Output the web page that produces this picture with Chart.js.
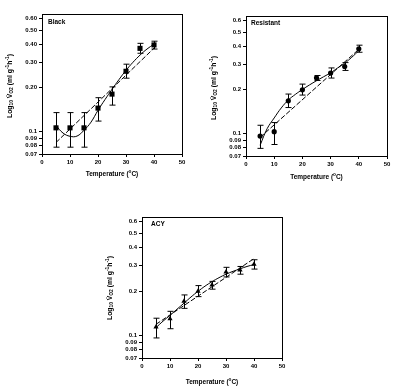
<!DOCTYPE html>
<html>
<head>
<meta charset="utf-8">
<script src="https://cdn.jsdelivr.net/npm/chart.js@4.4.0/dist/chart.umd.min.js"></script>
<style>
body { margin: 0; background: #fff; width: 397px; height: 391px; position: relative; overflow: hidden; }
.panel { position: absolute; }
</style>
</head>
<body>
<div class="panel" style="left:0px;top:0px"><canvas id="black" width="200" height="190"></canvas></div>
<div class="panel" style="left:200px;top:0px"><canvas id="resistant" width="197" height="190"></canvas></div>
<div class="panel" style="left:100px;top:200px"><canvas id="acy" width="200" height="191"></canvas></div>
<script>
// temperatures of the measured points (°C)
var temps = [5, 10, 15, 20, 25, 30, 35, 40];
// temperatures where the fitted curves were read
var fitTemps = [5, 7.5, 10, 12.5, 15, 17.5, 20, 22.5, 25, 27.5, 30, 32.5, 35, 37.5, 40];
var dashTemps = [5, 40];

// Black
var blackMean = [0.106, 0.106, 0.106, 0.145, 0.181, 0.260, 0.374, 0.395];
var blackHigh = [0.135, 0.135, 0.135, 0.171, 0.203, 0.291, 0.405, 0.419];
var blackLow  = [0.078, 0.078, 0.078, 0.118, 0.152, 0.233, 0.346, 0.370];
var blackSolid = [0.110, 0.0976, 0.0927, 0.093, 0.102, 0.116, 0.140, 0.166, 0.195, 0.228, 0.264, 0.300, 0.336, 0.370, 0.400];
var blackDashed = [0.084, 0.375];

// Resistant
var resMean = [0.096, 0.103, 0.168, 0.200, 0.242, 0.261, 0.289, 0.383];
var resHigh = [0.114, 0.119, 0.187, 0.219, 0.251, 0.283, 0.308, 0.406];
var resLow  = [0.079, 0.084, 0.151, 0.184, 0.232, 0.241, 0.272, 0.363];
var resSolid = [0.083, 0.108, 0.128, 0.150, 0.170, 0.186, 0.201, 0.216, 0.231, 0.246, 0.262, 0.283, 0.305, 0.335, 0.372];
var resDashed = [0.094, 0.380];

// ACY
var acyMean = [0.114, 0.130, 0.171, 0.200, 0.221, 0.271, 0.280, 0.307];
var acyHigh = [0.131, 0.146, 0.189, 0.219, 0.234, 0.292, 0.296, 0.329];
var acyLow  = [0.096, 0.111, 0.153, 0.184, 0.207, 0.251, 0.262, 0.284];
var acySolid = [0.113, 0.125, 0.137, 0.151, 0.166, 0.183, 0.200, 0.217, 0.233, 0.248, 0.262, 0.274, 0.285, 0.296, 0.305];
var acyDashed = [0.119, 0.335];

// tick labels
var yTicks = [0.07, 0.08, 0.09, 0.1, 0.2, 0.3, 0.4, 0.5, 0.6];
var blackTickLabels = ['0.07', '0.08', '0.09', '0.1', '0.20', '0.30', '0.40', '0.50', '0.60'];
var otherTickLabels = ['0.07', '0.08', '0.09', '0.1', '0.2', '0.3', '0.4', '0.5', '0.6'];
var xTicks = [0, 10, 20, 30, 40, 50];

// axis titles, pieces: 0 normal, 1 subscript, 2 superscript
var yTitle = [['Log', 0], ['10', 1], [' V\u0307', 0], ['O2', 1], [' (ml g', 0], ['-1', 2], ['h', 0], ['-1', 2], [')', 0]];
var xTitle = [['Temperature (', 0], ['o', 2], ['C)', 0]];

var FONT = "'Liberation Sans', Arial, sans-serif";

function pts(xs, ys) {
	return xs.map(function(x, i) { return {x: x, y: ys[i]}; });
}

function drawRich(ctx, pieces, x, y, size) {
	var total = 0;
	pieces.forEach(function(p) {
		ctx.font = 'bold ' + (p[1] ? size * 0.72 : size) + 'px ' + FONT;
		total += ctx.measureText(p[0]).width;
	});
	var cx = x - total / 2;
	ctx.textBaseline = 'middle';
	ctx.textAlign = 'left';
	pieces.forEach(function(p) {
		ctx.font = 'bold ' + (p[1] ? size * 0.72 : size) + 'px ' + FONT;
		var dy = p[1] == 1 ? size * 0.3 : (p[1] == 2 ? -size * 0.35 : 0);
		ctx.fillText(p[0], cx, y + dy);
		cx += ctx.measureText(p[0]).width;
	});
}

// error bars under the markers
var errorBars = {
	id: 'errorBars',
	beforeDatasetsDraw: function(chart) {
		var ctx = chart.ctx;
		var xs = chart.scales.x, ys = chart.scales.y;
		ctx.save();
		ctx.strokeStyle = '#000';
		ctx.lineWidth = 1;
		chart.data.datasets.forEach(function(ds) {
			if (!ds.errHigh) return;
			ds.data.forEach(function(p, i) {
				var px = Math.round(xs.getPixelForValue(p.x)) + 0.5;
				var top = ys.getPixelForValue(ds.errHigh[i]);
				var bot = ys.getPixelForValue(ds.errLow[i]);
				ctx.beginPath();
				ctx.moveTo(px, top); ctx.lineTo(px, bot);
				ctx.moveTo(px - 3, top); ctx.lineTo(px + 3, top);
				ctx.moveTo(px - 3, bot); ctx.lineTo(px + 3, bot);
				ctx.stroke();
			});
		});
		ctx.restore();
	}
};

// frame, panel name and axis titles
var decorations = {
	id: 'decorations',
	afterDraw: function(chart, args, opts) {
		var ctx = chart.ctx;
		var a = chart.chartArea;
		ctx.save();
		ctx.strokeStyle = '#000';
		ctx.lineWidth = 1;
		ctx.strokeRect(Math.round(a.left) + 0.5, Math.round(a.top) + 0.5, Math.round(a.right - a.left), Math.round(a.bottom - a.top));
		ctx.fillStyle = '#000';
		ctx.font = 'bold 6.5px ' + FONT;
		ctx.textAlign = 'left';
		ctx.textBaseline = 'middle';
		ctx.fillText(opts.name, a.left + opts.nameDx, a.top + opts.nameDy);
		drawRich(ctx, xTitle, (a.left + a.right) / 2, a.bottom + opts.xTitleDy, 6.5);
		ctx.translate(a.left - 32, opts.yTitleCy);
		ctx.rotate(-Math.PI / 2);
		drawRich(ctx, yTitle, 0, 0, 6.8);
		ctx.restore();
	}
};

function makeChart(id, c) {
	var tickFont = {family: FONT, size: 6, weight: 'bold'};
	return new Chart(document.getElementById(id).getContext('2d'), {
		type: 'scatter',
		data: {
			datasets: [{
				data: pts(temps, c.mean),
				errHigh: c.high,
				errLow: c.low,
				pointStyle: c.marker,
				pointRadius: c.radius,
				backgroundColor: '#000',
				borderColor: '#000',
				borderWidth: 0,
				showLine: false
			}, {
				data: pts(fitTemps, c.solid),
				showLine: true,
				pointRadius: 0,
				borderColor: '#000',
				borderWidth: 1,
				tension: 0.4
			}, {
				data: pts(dashTemps, c.dashed),
				showLine: true,
				pointRadius: 0,
				borderColor: '#000',
				borderWidth: 1,
				borderDash: [5, 2]
			}]
		},
		options: {
			responsive: false,
			animation: false,
			layout: {padding: {left: 0, top: c.top, right: c.right, bottom: 0}},
			scales: {
				x: {
					type: 'linear', min: 0, max: 50,
					afterBuildTicks: function(s) { s.ticks = xTicks.map(function(v) { return {value: v}; }); },
					afterFit: function(s) { s.height = c.xHeight; },
					ticks: {font: tickFont, color: '#000', padding: 2, maxRotation: 0},
					grid: {drawOnChartArea: false, tickLength: 3, color: '#000'},
					border: {color: '#000'}
				},
				y: {
					type: 'logarithmic', min: 0.07, max: 0.645,
					afterBuildTicks: function(s) { s.ticks = yTicks.map(function(v) { return {value: v}; }); },
					afterFit: function(s) { s.width = c.yWidth; },
					ticks: {
						font: tickFont, color: '#000', padding: 2, autoSkip: false,
						callback: function(v, i) { return c.labels[i]; }
					},
					grid: {drawOnChartArea: false, tickLength: 3, color: '#000'},
					border: {color: '#000'}
				}
			},
			plugins: {
				legend: {display: false},
				tooltip: {enabled: false},
				decorations: c.deco
			}
		},
		plugins: [errorBars, decorations]
	});
}

makeChart('black', {
	mean: blackMean, high: blackHigh, low: blackLow, solid: blackSolid, dashed: blackDashed,
	marker: 'rect', radius: 3.6, labels: blackTickLabels,
	top: 14, right: 18, yWidth: 42, xHeight: 36,
	deco: {name: 'Black', nameDx: 6, nameDy: 8, xTitleDy: 20, yTitleCy: 86}
});

makeChart('resistant', {
	mean: resMean, high: resHigh, low: resLow, solid: resSolid, dashed: resDashed,
	marker: 'circle', radius: 2.6, labels: otherTickLabels,
	top: 16, right: 10, yWidth: 46, xHeight: 34,
	deco: {name: 'Resistant', nameDx: 5, nameDy: 7, xTitleDy: 21, yTitleCy: 88}
});

makeChart('acy', {
	mean: acyMean, high: acyHigh, low: acyLow, solid: acySolid, dashed: acyDashed,
	marker: 'triangle', radius: 3, labels: otherTickLabels,
	top: 17, right: 18, yWidth: 42, xHeight: 33,
	deco: {name: 'ACY', nameDx: 9, nameDy: 7, xTitleDy: 24, yTitleCy: 88}
});
</script>
</body>
</html>
